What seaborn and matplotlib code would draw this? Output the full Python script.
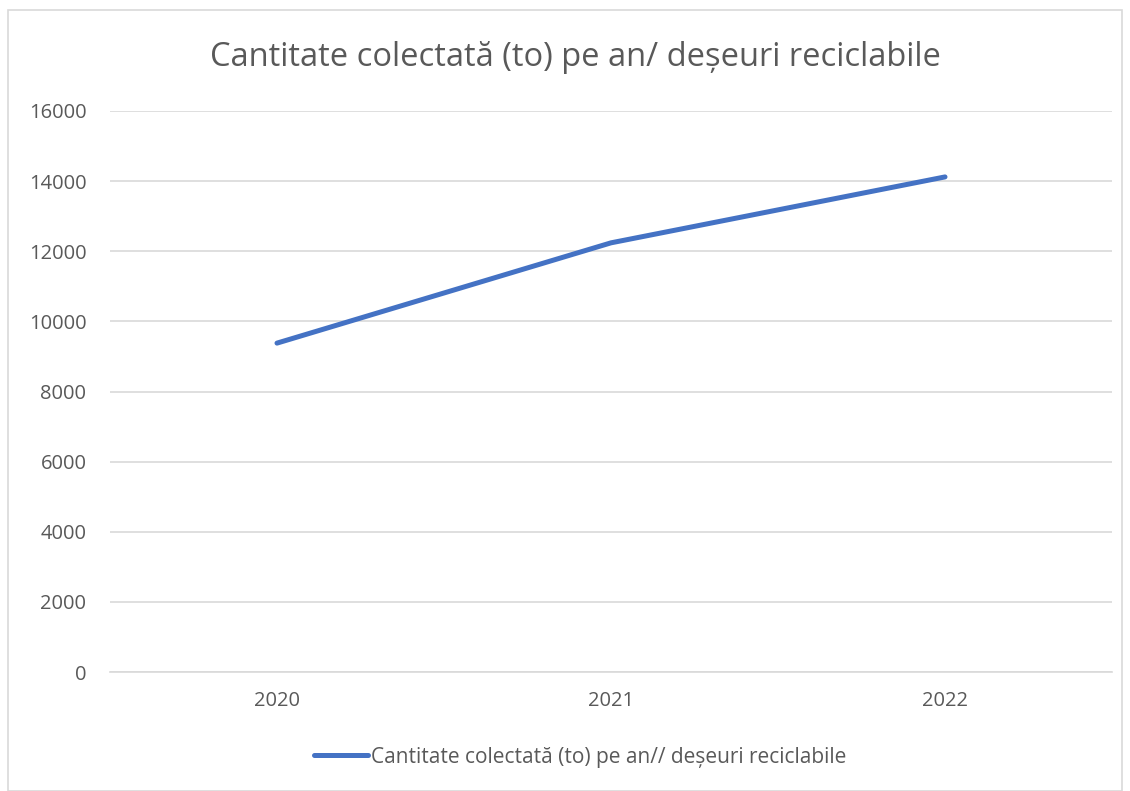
import matplotlib
matplotlib.use("Agg")
import matplotlib.pyplot as plt
import seaborn as sns
import pandas as pd
from matplotlib.patches import Rectangle
from matplotlib.lines import Line2D

years = ["2020", "2021", "2022"]
values = [9380, 12240, 14120]
series_name = "Cantitate colectată (to) pe an// deșeuri reciclabile"
title = "Cantitate colectată (to) pe an/ deșeuri reciclabile"
yticks = [0, 2000, 4000, 6000, 8000, 10000, 12000, 14000, 16000]

sns.set_theme(style="white")
plt.rcParams['font.family'] = ['Open Sans', 'DejaVu Sans']

df = pd.DataFrame({"year": years, "value": values, "series": series_name})

fig = plt.figure(figsize=(11.3, 7.91), dpi=100)
ax = fig.add_axes([110/1130, 1-672/791, (1112-110)/1130, (672-111)/791])

sns.lineplot(data=df, x="year", y="value", hue="series", palette=["#4472C4"],
             linewidth=3.6, ax=ax, legend=False, solid_capstyle="round")

ax.set_xlim(-0.5, 2.5)
ax.set_ylim(0, 16000)
ax.set_yticks(yticks)
ax.set_yticklabels([str(t) for t in yticks])
ax.yaxis.grid(True, color="#d9d9d9", linewidth=1.2)
ax.xaxis.grid(False)
for s in ["top", "right", "left"]:
    ax.spines[s].set_visible(False)
ax.spines["bottom"].set_color("#d9d9d9")
ax.spines["bottom"].set_linewidth(1.2)
ax.tick_params(axis="both", length=0, labelsize=14.5, colors="#595959")
ax.tick_params(axis="y", pad=17)
ax.tick_params(axis="x", pad=14)
ax.set_xlabel("")
ax.set_ylabel("")

fig.text(575/1130, 1-58/791, title, ha="center", va="center", fontsize=23.5, color="#595959")

h = [Line2D([0], [0], color="#4472C4", linewidth=3.6, solid_capstyle="round")]
fig.legend(h, [series_name], loc="center", bbox_to_anchor=(580/1130, 1-757/791),
           frameon=False, fontsize=15, labelcolor="#595959", handlelength=2.6,
           handletextpad=0.15)

fig.patches.append(Rectangle((8/1130, 0.0), (1122-8)/1130, 1-10/791, transform=fig.transFigure,
                             fill=False, edgecolor="#d9d9d9", linewidth=1.2))

fig.savefig("out.png", dpi=100)
